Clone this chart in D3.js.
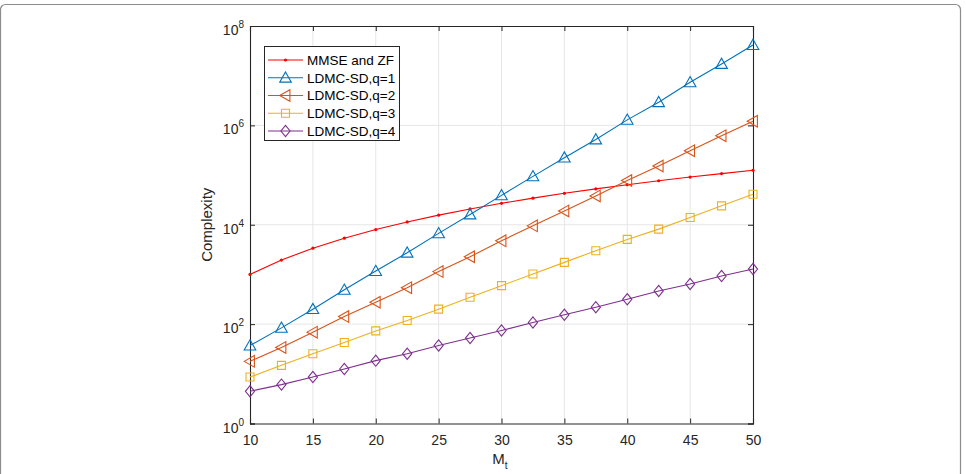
<!DOCTYPE html>
<html>
<head>
<meta charset="utf-8">
<script src="https://cdn.jsdelivr.net/npm/d3@7"></script>
<style>
  body { margin: 0; background: #fff; }
  svg { display: block; font-family: "Liberation Sans", Arial, sans-serif; }
</style>
</head>
<body>
<svg id="chart" width="966" height="474"></svg>
<script>
// values
const mt = [10, 12.5, 15, 17.5, 20, 22.5, 25, 27.5, 30, 32.5, 35, 37.5, 40, 42.5, 45, 47.5, 50]
const mmseZf = [1000, 1950, 3380, 5360, 8000, 11400, 15600, 20800, 27000, 34300, 42900, 52700, 64000, 76800, 91100, 107000, 125000]
const ldmcQ1 = [37, 84, 200, 490, 1170, 2730, 6700, 16100, 39000, 94000, 224000, 520000, 1290000, 2920000, 7360000, 17200000, 41400000]
const ldmcQ2 = [17.8, 34, 69, 142, 276, 542, 1140, 2270, 4750, 9500, 19000, 38000, 77400, 152000, 310000, 620000, 1210000]
const ldmcQ3 = [8.6, 14.8, 25.4, 42.7, 73, 118, 200, 347, 595, 1020, 1750, 3000, 5070, 8160, 14000, 24000, 41100]
const ldmcQ4 = [4.45, 6.06, 8.6, 12.5, 18.4, 25.4, 37.2, 52.4, 74.5, 108, 154, 219, 316, 466, 643, 931, 1285]

const seriesNames = ["MMSE and ZF", "LDMC-SD,q=1", "LDMC-SD,q=2", "LDMC-SD,q=3", "LDMC-SD,q=4"]
const xTicks = [10, 15, 20, 25, 30, 35, 40, 45, 50]
const yTicks = [1, 1e2, 1e4, 1e6, 1e8]

const colors = ["#ff0000", "#0072bd", "#d95319", "#edb120", "#7e2f8e"]
const markers = ["dot", "triUp", "triLeft", "square", "diamond"]
const allSeries = [mmseZf, ldmcQ1, ldmcQ2, ldmcQ3, ldmcQ4]

const svg = d3.select("#chart")
const plotL = 250, plotR = 753, plotT = 26, plotB = 423.5
const ink = "#262626"

// outer frame of the figure
svg.append("rect")
  .attr("x", 0.5).attr("y", 4.5).attr("width", 960).attr("height", 490).attr("rx", 5)
  .attr("fill", "none").attr("stroke", "#8c8c8c").attr("stroke-width", 1.2)

const x = d3.scaleLinear().domain([10, 50]).range([plotL, plotR])
const y = d3.scaleLog().domain([1, 1e8]).range([plotB, plotT])

// grid
const grid = svg.append("g").attr("stroke", "#e6e6e6").attr("stroke-width", 1)
grid.selectAll(".gx").data(xTicks.slice(1, -1)).join("line")
  .attr("x1", d => x(d)).attr("x2", d => x(d)).attr("y1", plotT).attr("y2", plotB)
grid.selectAll(".gy").data(yTicks.slice(1, -1)).join("line")
  .attr("x1", plotL).attr("x2", plotR).attr("y1", d => y(d)).attr("y2", d => y(d))

// axes with inward ticks, box on
const tickLen = 5
const xAxisB = d3.axisBottom(x).tickValues(xTicks).tickSize(-tickLen).tickPadding(12).tickFormat(d3.format("d"))
const xAxisT = d3.axisTop(x).tickValues(xTicks).tickSize(-tickLen).tickFormat("")
const yAxisL = d3.axisLeft(y).tickValues(yTicks).tickSize(-tickLen).tickFormat("")
const yAxisR = d3.axisRight(y).tickValues(yTicks).tickSize(-tickLen).tickFormat("")

function styleAxis(g) {
  g.select(".domain").attr("stroke", ink).attr("stroke-width", 1.1)
  g.selectAll(".tick line").attr("stroke", ink)
  g.selectAll("text").attr("fill", ink).style("font-size", "14px")
    .style("font-family", "'Liberation Sans', Arial, sans-serif")
}

svg.append("g").attr("transform", `translate(0,${plotB})`).call(xAxisB).call(styleAxis)
svg.append("g").attr("transform", `translate(0,${plotT})`).call(xAxisT).call(styleAxis)
svg.append("g").attr("transform", `translate(${plotL},0)`).call(yAxisL).call(styleAxis)
svg.append("g").attr("transform", `translate(${plotR},0)`).call(yAxisR).call(styleAxis)

// y tick labels as 10^n
const yLab = svg.append("g").attr("fill", ink).attr("text-anchor", "end")
yTicks.forEach(v => {
  const t = yLab.append("text").attr("x", 244).attr("y", y(v) + 9).style("font-size", "14px")
  t.append("tspan").text("10")
  t.append("tspan").attr("dy", -7).style("font-size", "10px").text(Math.round(Math.log10(v)))
})

// axis titles
const xt = svg.append("text").attr("x", 500).attr("y", 464).attr("text-anchor", "middle")
  .attr("fill", ink).style("font-size", "15px")
xt.append("tspan").text("M")
xt.append("tspan").attr("dy", 5).style("font-size", "10px").text("t")

svg.append("text")
  .attr("transform", `translate(212,${(plotT + plotB) / 2}) rotate(-90)`)
  .attr("text-anchor", "middle").attr("fill", ink).style("font-size", "15px")
  .text("Complexity")

// marker path generator
function markerPath(kind) {
  switch (kind) {
    case "triUp": return "M0,-5.8L5.8,4.4L-5.8,4.4Z"
    case "triLeft": return "M-5.8,0L4.4,-5.8L4.4,5.8Z"
    case "square": return "M-4,-4H4V4H-4Z"
    case "diamond": return "M0,-5.6L4.6,0L0,5.6L-4.6,0Z"
    default: return null
  }
}

function drawMarker(g, kind, color, px, py) {
  if (kind === "dot") {
    g.append("circle").attr("cx", px).attr("cy", py).attr("r", 1.6).attr("fill", color)
  } else {
    g.append("path").attr("d", markerPath(kind)).attr("transform", `translate(${px},${py})`)
      .attr("fill", "none").attr("stroke", color).attr("stroke-width", 1.1)
  }
}

const line = d3.line().x(d => x(d[0])).y(d => y(d[1]))

allSeries.forEach((vals, i) => {
  const pts = mt.map((m, j) => [m, vals[j]])
  const g = svg.append("g")
  g.append("path").datum(pts).attr("d", line)
    .attr("fill", "none").attr("stroke", colors[i]).attr("stroke-width", 1.1)
  pts.forEach(p => drawMarker(g, markers[i], colors[i], x(p[0]), y(p[1])))
})

// legend
const lg = svg.append("g")
lg.append("rect").attr("x", 264.5).attr("y", 46.5).attr("width", 135).attr("height", 94)
  .attr("fill", "#fff").attr("stroke", ink).attr("stroke-width", 1)
seriesNames.forEach((name, i) => {
  const ry = 60 + i * 17.75
  lg.append("line").attr("x1", 268).attr("x2", 303).attr("y1", ry).attr("y2", ry)
    .attr("stroke", colors[i]).attr("stroke-width", 1.1)
  drawMarker(lg, markers[i], colors[i], 285.5, ry)
  lg.append("text").attr("x", 307).attr("y", ry + 4.8).attr("fill", "#000")
    .style("font-size", "13.5px").text(name)
})
</script>
</body>
</html>
